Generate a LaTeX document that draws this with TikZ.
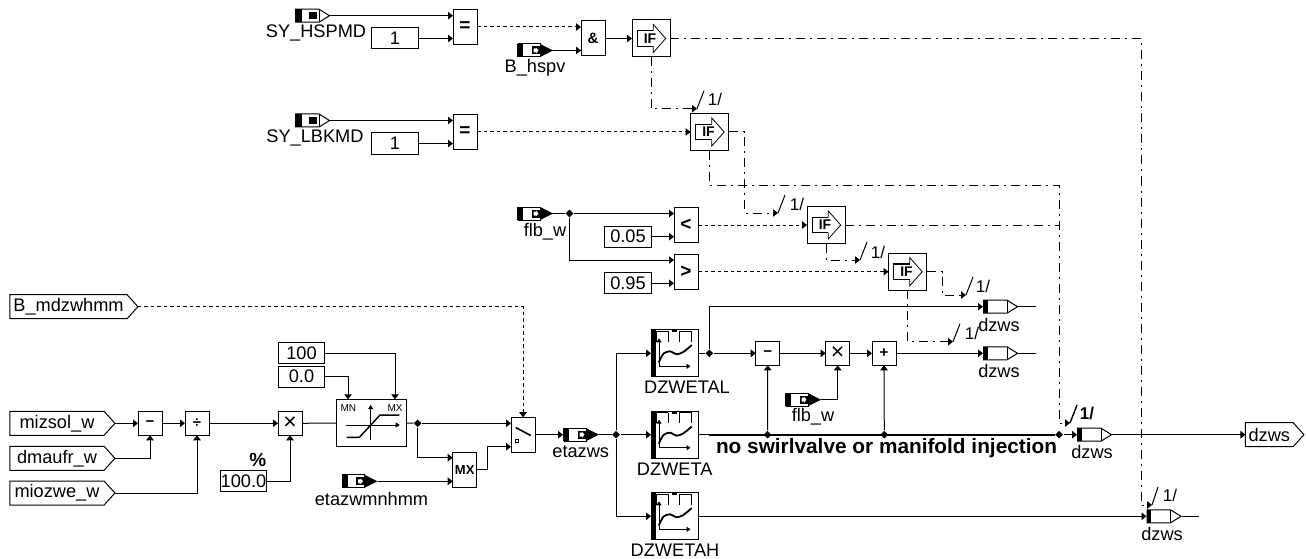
\documentclass[tikz,border=0pt]{standalone}
\usepackage{fontspec}
\setmainfont{Liberation Sans}
\usepackage{xcolor}
\usepackage{tikz}
\usetikzlibrary{arrows.meta,shapes.geometric,shapes.symbols}

\begin{document}
\begin{tikzpicture}[x=1pt, y=-1pt, >={Triangle[length=5pt,width=7.5pt]}, line width=1pt]
    \tikzstyle{txt} = [inner sep=0, font=\fontsize{18.2}{20}\selectfont]
    \tikzstyle{num} = [txt, font=\fontsize{17}{20}\selectfont]
    \tikzstyle{opsym} = [draw, inner sep=0, outer sep=0, fill=white, font=\fontsize{15}{16}\selectfont\bfseries]
    \tikzstyle{hblock} = [opsym, minimum width=24pt, minimum height=35pt]
    \tikzstyle{sblock} = [opsym, minimum width=24pt, minimum height=24pt]
    \tikzstyle{bigsym} = [font=\fontsize{19}{20}\selectfont\bfseries]
    \tikzstyle{cbox} = [draw, inner sep=0, outer sep=0, minimum width=46.5pt, minimum height=21pt, font=\fontsize{18.2}{20}\selectfont]
    \tikzstyle{sigbox} = [draw, signal, signal to=east, signal from=nowhere, signal pointer angle=96, inner sep=0, outer sep=0, minimum height=24pt, font=\fontsize{18.2}{20}\selectfont]
    \tikzstyle{jn} = [diamond, fill=black, inner sep=0, minimum size=8pt]
    \tikzstyle{sig} = [->]
    \tikzstyle{dotsig} = [->, dash pattern=on 3.5pt off 3pt]
    \tikzstyle{dds} = [dash pattern=on 9pt off 5pt on 2pt off 5pt]
    \tikzstyle{ddsig} = [->, dds]
    % ports
    \tikzstyle{srcport} = [inner sep=0, outer sep=0, minimum width=35pt, minimum height=14pt, path picture={
        \begin{scope}[shift={(path picture bounding box.center)}]
            \draw (-17,-6.5) -- (6.5,-6.5) -- (17,0) -- (6.5,6.5) -- (-17,6.5) -- cycle;
            \draw (6.5,-6.5) -- (6.5,6.5);
            \fill (-17.5,-6.5) rectangle (-11,6.5);
            \fill (-3.5,-3.5) rectangle (4.5,3.5);
        \end{scope}}]
    \tikzstyle{fillport} = [inner sep=0, outer sep=0, minimum width=36pt, minimum height=14pt, path picture={
        \begin{scope}[shift={(path picture bounding box.center)}]
            \draw (-17,-6.5) rectangle (5,6.5);
            \fill (5,-6.5) -- (18,0) -- (5,6.5) -- cycle;
            \fill (-18,-6.5) rectangle (-12,6.5);
            \fill (-3.5,-4) rectangle (5.5,4);
            \fill[white] (-1.5,-2) -- (1,-2) -- (1,-3) -- (3.5,0) -- (1,3) -- (1,2) -- (-1.5,2) -- cycle;
        \end{scope}}]
    \tikzstyle{dstport} = [inner sep=0, outer sep=0, minimum width=35pt, minimum height=14pt, path picture={
        \begin{scope}[shift={(path picture bounding box.center)}]
            \draw (-17,-6.5) -- (6.5,-6.5) -- (17,0) -- (6.5,6.5) -- (-17,6.5) -- cycle;
            \draw (6.5,-6.5) -- (6.5,6.5);
            \fill (-17.5,-6.5) rectangle (-13,6.5);
        \end{scope}}]
    % blocks that carry a little drawing
    \tikzstyle{ifblock} = [draw, inner sep=0, outer sep=0, minimum width=38pt, minimum height=37pt, path picture={
        \begin{scope}[shift={(path picture bounding box.center)}]
            \draw[line width=.8pt] (2.3,-7.7) -- (2.3,-14) -- (14.7,0) -- (2.3,14) -- (2.3,7.7);
            \draw[line width=1.2pt] (2.3,-7.7) -- (-13.7,-7.7) -- (-13.7,7.7) -- (2.3,7.7);
            \node[inner sep=0, font=\fontsize{14}{16}\selectfont\bfseries] at (-1,0) {IF};
        \end{scope}}]
    \tikzstyle{mapblock} = [draw, inner sep=0, outer sep=0, minimum width=47pt, minimum height=47pt, path picture={
        \begin{scope}[shift={(path picture bounding box.center)}]
            \fill (-23.5,-23.5) rectangle (-19,23.5);
            \draw[-{Triangle[length=4pt,width=5pt]}] (-15.5,13) -- (-15.5,-15);
            \draw[-{Triangle[length=4pt,width=5pt]}] (-15.5,13) -- (16,13);
            \draw[line width=1.8pt, line cap=round] plot[smooth] coordinates {(-15.5,8.7) (-11,0.3) (-4.5,-2) (2,1) (8.8,-1.3) (17,-8)};
            \draw (-17.8,-22) -- (-17.8,-11.3);
            \draw (-6.2,-22) -- (-6.2,-11.3);
            \draw (4.8,-22) -- (4.8,-11.3);
            \draw (17.2,-22) -- (17.2,-11.3);
            \draw (-19,-22) -- (-6.2,-22);
            \draw (4.8,-22) -- (17.2,-22);
            \fill (-2.8,-24) rectangle (2.2,-21);
        \end{scope}}]
    \tikzstyle{satblock} = [draw, inner sep=0, outer sep=0, minimum width=70pt, minimum height=47.5pt, path picture={
        \begin{scope}[shift={(path picture bounding box.center)}]
            \draw[-{Triangle[length=4pt,width=5pt]}, line width=.8pt] (-1,17) -- (-1,-18);
            \draw[-{Triangle[length=4pt,width=5pt]}, line width=.8pt] (-25.7,2) -- (28,2);
            \draw[line width=1.5pt] (-25,14.3) -- (-12.3,14.3) -- (8.3,-8) -- (27.7,-8);
            \node[font=\fontsize{10}{10}\selectfont] at (-23.3,-15.3) {MN};
            \node[font=\fontsize{10}{10}\selectfont] at (23.3,-15.3) {MX};
        \end{scope}}]
    \tikzstyle{swblock} = [hblock, path picture={
        \begin{scope}[shift={(path picture bounding box.center)}]
            \draw[line width=1.6pt] (-7.3,-7.2) -- (7.7,0.8);
            \draw[line width=.8pt] (-7.2,4.3) rectangle (-4.2,7.3);
        \end{scope}}]

    % top group
    \node[srcport] (hspmd) at (312.5,15.7) {};
    \node[txt] (hspmdt) at (316,33) {SY\_HSPMD};
    \node[cbox] (ca) at (395,38.5) {1};
    \node[hblock, bigsym] (eqa) at (465,27) {=};
    \node[hblock] (anda) at (593,38.5) {\&};
    \node[fillport] (hspv) at (535,50.5) {};
    \node[txt] (hspvt) at (535,68) {B\_hspv};
    \node[ifblock] (ifa) at (651,38.5) {};

    \node[srcport] (lbkmd) at (312.5,120.5) {};
    \node[txt] (lbkmdt) at (315,138) {SY\_LBKMD};
    \node[cbox] (cb) at (395,143.5) {1};
    \node[hblock, bigsym] (eqb) at (465,132) {=};
    \node[ifblock] (ifb) at (709.5,132) {};

    \node[fillport] (flba) at (535,213.5) {};
    \node[txt] (flbat) at (545,232) {flb\_w};
    \node[jn] (ja) at (569.5,213.5) {};
    \node[cbox] (cc) at (628,236.7) {0.05};
    \node[cbox] (cd) at (628,283.3) {0.95};
    \node[hblock, bigsym] (lt) at (686,225) {<};
    \node[hblock, bigsym] (gt) at (686,271.7) {>};
    \node[ifblock] (ifc) at (826,225) {};
    \node[ifblock] (ifd) at (907.5,271.7) {};

    % left group
    \node[sigbox, minimum width=128pt] (mdzw) at (68.5,306.7) {B\_mdzwhmm};
    \node[sigbox, minimum width=105pt] (mizsol) at (57,423.3) {mizsol\_w};
    \node[sigbox, minimum width=105pt] (dmaufr) at (57,458.3) {dmaufr\_w};
    \node[sigbox, minimum width=105pt] (miozwe) at (57,493) {miozwe\_w};
    \node[sblock] (sub) at (150,423.3) {−};
    \node[sblock] (dvd) at (197,423.3) {÷};
    \node[sblock, font=\fontsize{23}{20}\selectfont] (mlt) at (290,423.3) {×};
    \node[txt, font=\fontsize{19}{20}\selectfont\bfseries] (pct) at (257.7,460) {\%};
    \node[cbox] (ce) at (243.5,481.3) {100.0};
    \node[cbox] (cf) at (301.5,353) {100};
    \node[cbox] (cg) at (301.5,376.5) {0.0};
    \node[satblock] (sat) at (371.7,423) {};
    \node[jn] (jb) at (417.7,423.3) {};
    \node[hblock, font=\fontsize{13}{16}\selectfont\bfseries] (mx) at (464.7,469.8) {MX};
    \node[fillport] (mnh) at (359.5,481.3) {};
    \node[txt] (mnht) at (371.5,499) {etazwmnhmm};
    \node[swblock] (sw) at (523,434.7) {};
    \node[fillport] (eta) at (581,434.7) {};
    \node[txt] (etat) at (580.7,451.7) {etazws};
    \node[jn] (jc) at (616,434.7) {};

    % maps and correction
    \node[mapblock] (dzl) at (674.5,353.3) {};
    \node[txt] (dzlt) at (687,387.7) {DZWETAL};
    \node[mapblock] (dzm) at (674.5,434.7) {};
    \node[txt] (dzmt) at (674.7,469.3) {DZWETA};
    \node[mapblock] (dzh) at (674.5,516.3) {};
    \node[txt] (dzht) at (675,550) {DZWETAH};
    \node[jn] (jd) at (709.3,353.3) {};
    \node[sblock] (ssub) at (767.7,353.3) {−};
    \node[sblock, font=\fontsize{23}{20}\selectfont] (smlt) at (837.7,353.3) {×};
    \node[sblock] (sadd) at (884,353.3) {+};
    \node[fillport] (flbb) at (803,399.7) {};
    \node[txt] (flbbt) at (813,417) {flb\_w};
    \node[jn] (je) at (767.5,434.7) {};
    \node[jn] (jf) at (884.3,434.7) {};
    \node[jn] (jg) at (1059,434.7) {};
    \node[txt, font=\fontsize{20.8}{20}\selectfont\bfseries] (note) at (886.5,448) {no swirlvalve or manifold injection};

    % outputs
    \node[dstport] (oa) at (1000.5,306.7) {};
    \node[txt] (oat) at (999,325) {dzws};
    \node[dstport] (ob) at (1000.5,353.3) {};
    \node[txt] (obt) at (999,371) {dzws};
    \node[dstport] (oc) at (1094.5,434.7) {};
    \node[txt] (oct) at (1092,452) {dzws};
    \node[dstport] (od) at (1164,516.3) {};
    \node[txt] (odt) at (1162,534) {dzws};
    \node[sigbox, minimum width=58.5pt] (oe) at (1269.3,434.7) {dzws};
    \coordinate (oat2) at (1036,306.7);
    \coordinate (obt2) at (1036,353.3);
    \coordinate (odt2) at (1199,516.3);

    % enable marks
    \coordinate (ma) at (697,108.7);
    \coordinate (mb) at (778,213);
    \coordinate (mc) at (860,260);
    \coordinate (md) at (966,295);
    \coordinate (me) at (953,341.7);
    \coordinate (mf) at (1070,423);
    \coordinate (mg) at (1152,505);
    \draw (ma) -- ++(7,-18);
    \draw (mb) -- ++(7,-18);
    \draw (mc) -- ++(7,-18);
    \draw (md) -- ++(7,-18);
    \draw (me) -- ++(7,-18);
    \draw[line width=1.4pt] (mf) -- ++(7,-18);
    \draw (mg) -- ++(6,-18);
    \node[num] (ta) at (715,99) {1/};
    \node[num] (tb) at (797,204) {1/};
    \node[num] (tc) at (878,252) {1/};
    \node[num] (td) at (983,286) {1/};
    \node[num] (te) at (972,333) {1/};
    \node[num, font=\fontsize{17}{20}\selectfont\bfseries] (tf) at (1087,414) {1/};
    \node[num] (tg) at (1170,495) {1/};

    % connectors top
    \draw[sig] (hspmd.east) -- (hspmd.east -| eqa.west);
    \draw[sig] (ca.east) -- (ca.east -| eqa.west);
    \draw[dotsig] (eqa.east) -- (eqa.east -| anda.west);
    \draw[sig] (hspv.east) -- (hspv.east -| anda.west);
    \draw[sig] (anda.east) -- (ifa.west);
    \draw[sig] (lbkmd.east) -- (lbkmd.east -| eqb.west);
    \draw[sig] (cb.east) -- (cb.east -| eqb.west);
    \draw[dotsig] (eqb.east) -- (ifb.west);
    \draw (flba.east) -- (ja);
    \draw[sig] (ja) -- (ja -| lt.west);
    \draw[sig] (ja) |- (gt.west |- 0,260);
    \draw[sig] (cc.east) -- (cc.east -| lt.west);
    \draw[sig] (cd.east) -- (cd.east -| gt.west);
    \draw[dotsig] (lt.east) -- (ifc.west);
    \draw[dotsig] (gt.east) -- (ifd.west);

    % enable lines
    \draw[ddsig] (ifa.south) |- (ma);
    \draw[ddsig] (ifa.east) -- ++(471,0) |- (mg);
    \draw[ddsig] (ifb.east) -- ++(15.8,0) |- (mb);
    \draw[ddsig] (ifb.south) -- ++(0,34.7) -| (mf -| 1059,0) |- (mf);
    \draw[dds] (ifc.east) -- (ifc.east -| 1059,0);
    \draw[ddsig] (ifc.south) |- (mc);
    \draw[ddsig] (ifd.east) -- ++(15.5,0) |- (md);
    \draw[ddsig] (ifd.south) |- (me);

    % connectors left
    \draw[dotsig] (mdzw.east) -| (sw.north);
    \draw[sig] (mizsol.east) -- (sub.west);
    \draw[sig] (dmaufr.east) -| (sub.south);
    \draw[sig] (miozwe.east) -| (dvd.south);
    \draw[sig] (sub.east) -- (dvd.west);
    \draw[sig] (dvd.east) -- (mlt.west);
    \draw[sig] (ce.east) -| (mlt.south);
    \draw (mlt.east) -- (sat.west);
    \draw[sig] (cf.east) -| (sat.north -| 395,0);
    \draw[sig] (cg.east) -| (sat.north -| 348,0);
    \draw (sat.east) -- (jb);
    \draw[sig] (jb) -- (jb -| sw.west);
    \draw[sig] (jb) |- (mx.west |- 0,457.7);
    \draw[sig] (mnh.east) -- (mnh.east -| mx.west);
    \draw[sig] (mx.east) -- ++(11,0) |- (sw.west |- 0,446.7);
    \draw[sig] (sw.east) -- (eta.west);
    \draw (eta.east) -- (jc);
    \draw[sig] (jc) |- (dzl.west);
    \draw[sig] (jc) -- (dzm.west);
    \draw[sig] (jc) |- (dzh.west);

    % connectors right
    \draw (dzl.east) -- (jd);
    \draw[sig] (jd) |- (oa.west);
    \draw (oa.east) -- (oat2);
    \draw[sig] (jd) -- (ssub.west);
    \draw[sig] (ssub.east) -- (smlt.west);
    \draw[sig] (smlt.east) -- (sadd.west);
    \draw[sig] (sadd.east) -- (ob.west);
    \draw (ob.east) -- (obt2);
    \draw[sig] (flbb.east) -| (smlt.south);
    \draw (dzm.east) -- (je);
    \draw[line width=2.4pt] (709,434.7) -- (jg);
    \draw[sig] (je) -- (ssub.south);
    \draw[sig] (jf) -- (sadd.south);
    \draw[sig] (jg) -- (oc.west);
    \draw[sig] (oc.east) -- (oe.west);
    \draw[sig] (dzh.east) -- (od.west);
    \draw (od.east) -- (odt2);

    \useasboundingbox (0,0) rectangle (1306,559);
\end{tikzpicture}
\end{document}
